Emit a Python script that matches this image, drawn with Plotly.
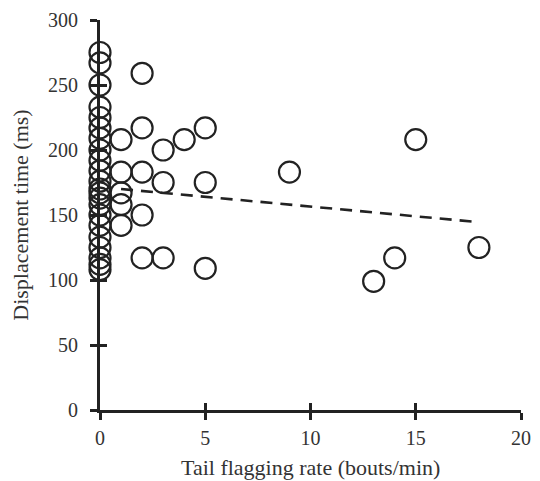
import plotly.graph_objects as go

# Data
x_zero_y = [275, 267, 250, 233, 225, 217, 209, 200, 192, 184, 176, 170, 167,
            163, 158, 150, 142, 133, 125, 117, 112, 108]
x_other = [1, 1, 1, 1, 1,
           2, 2, 2, 2, 2,
           3, 3, 3,
           4,
           5, 5, 5,
           9, 13, 14, 15, 18]
y_other = [208, 183, 167, 158, 142,
           259, 217, 183, 150, 117,
           200, 175, 117,
           208,
           217, 175, 109,
           183, 99, 117, 208, 125]
trend_x = [1, 18]
trend_y = [170, 144.5]

xs = [0] * len(x_zero_y) + x_other
ys = x_zero_y + y_other

x_ticks = [0, 5, 10, 15, 20]
y_ticks = [0, 50, 100, 150, 200, 250, 300]
x_title = "Tail flagging rate (bouts/min)"
y_title = "Displacement time (ms)"

INK = "#222222"
TXT = "#333333"
FONT = "Liberation Serif"

fig = go.Figure()
fig.add_trace(go.Scatter(
    x=trend_x, y=trend_y, mode="lines",
    line=dict(color=INK, width=2.6, dash="12px,8px"),
    cliponaxis=False, showlegend=False, hoverinfo="skip"))
fig.add_trace(go.Scatter(
    x=xs, y=ys, mode="markers",
    marker=dict(symbol="circle-open", size=21, color=INK,
                line=dict(color=INK, width=2.2)),
    cliponaxis=False, showlegend=False))
# invisible trace to host overlay axes (inner half of crossing ticks)
fig.add_trace(go.Scatter(x=[None], y=[None], xaxis="x2", yaxis="y2",
                         showlegend=False, hoverinfo="skip"))

axis_common = dict(showgrid=False, zeroline=False, color=INK, automargin=False,
                   tickfont=dict(family=FONT, size=20, color=TXT),
                   ticks="outside", ticklen=7, tickwidth=3, tickcolor=INK,
                   showline=True, linewidth=3, linecolor=INK)

# page body has an 8px margin, so the figure is sized to fit inside it
fig.update_layout(
    width=524, height=473,
    margin=dict(l=92, r=11, t=12, b=71),
    plot_bgcolor="white", paper_bgcolor="white",
    font=dict(family=FONT, color=TXT),
    xaxis=dict(range=[0, 20], tickvals=x_ticks,
               ticklabelstandoff=1,
               **axis_common),
    yaxis=dict(range=[0, 300], tickvals=y_ticks,
               title=dict(text=y_title,
                          font=dict(family=FONT, size=22, color=TXT),
                          standoff=14),
               ticklabelstandoff=8,
               **axis_common),
    xaxis2=dict(range=[0, 20], tickvals=x_ticks, overlaying="x",
                showticklabels=False, showgrid=False, zeroline=False,
                ticks="inside", ticklen=7, tickwidth=3, tickcolor=INK,
                showline=False, automargin=False),
    yaxis2=dict(range=[0, 300], tickvals=y_ticks, overlaying="y",
                showticklabels=False, showgrid=False, zeroline=False,
                ticks="inside", ticklen=7, tickwidth=3, tickcolor=INK,
                showline=False, automargin=False),
    annotations=[dict(text=x_title, xref="paper", yref="paper",
                      x=0.5, y=0, xanchor="center", yanchor="middle",
                      yshift=-57, showarrow=False,
                      font=dict(family=FONT, size=22, color=TXT))],
)

fig.write_html("out.html")
